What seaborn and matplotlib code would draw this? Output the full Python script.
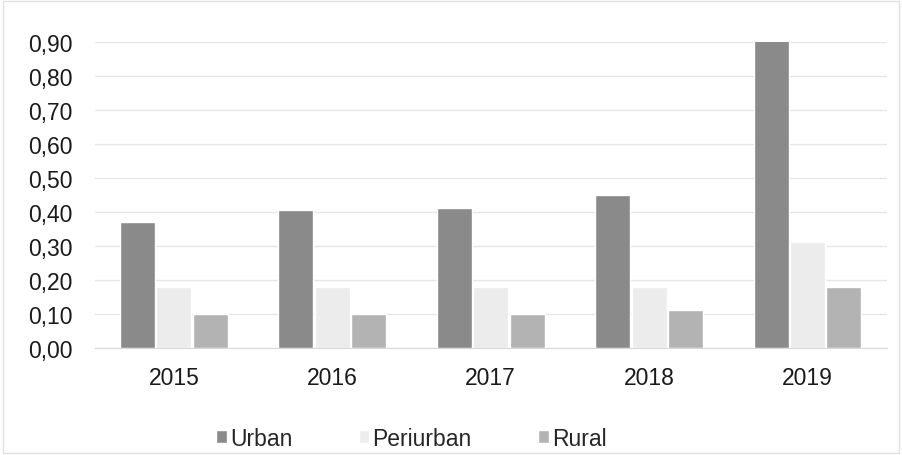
import pandas as pd
import matplotlib.pyplot as plt
import seaborn as sns
from matplotlib.ticker import FuncFormatter
from matplotlib.patches import Rectangle

anos = ["2015", "2016", "2017", "2018", "2019"]
urban = [0.37, 0.405, 0.41, 0.45, 0.905]
periurban = [0.18, 0.18, 0.18, 0.18, 0.31]
rural = [0.10, 0.10, 0.10, 0.11, 0.18]
grupos = ["Urban", "Periurban", "Rural"]
cores = ["#8a8a8a", "#ececec", "#b3b3b3"]

df = pd.DataFrame({"ano": anos * 3,
                   "valor": urban + periurban + rural,
                   "grupo": [g for g in grupos for _ in anos]})

sns.set_style("white")
plt.rcParams["font.family"] = ["Liberation Sans", "DejaVu Sans"]

fig = plt.figure(figsize=(9.02, 4.56), dpi=100)
ax = fig.add_axes([0.105, 0.235, 0.878, 0.671])

sns.barplot(data=df, x="ano", y="valor", hue="grupo", palette=cores,
            width=0.69, gap=0.04, ax=ax, saturation=1, legend=True)

ax.set_ylim(0, 0.90)
ax.set_yticks([i / 10 for i in range(10)])
ax.yaxis.set_major_formatter(FuncFormatter(lambda v, p: f"{v:.2f}".replace(".", ",")))
ax.grid(axis="y", color="#e6e6e6", linewidth=1)
ax.set_axisbelow(True)
for s in ["top", "right", "left"]:
    ax.spines[s].set_visible(False)
ax.spines["bottom"].set_color("#d9d9d9")
ax.tick_params(axis="both", labelsize=16.5, length=0, colors="#1a1a1a")
ax.tick_params(axis="y", pad=16)
ax.tick_params(axis="x", pad=13)
ax.set_xlabel("")
ax.set_ylabel("")

ax.legend(loc="upper center", bbox_to_anchor=(0.40, -0.19), ncol=3, frameon=False,
          fontsize=16.5, handlelength=0.45, handleheight=0.45, handletextpad=0.15,
          columnspacing=2.9)

fig.patches.append(Rectangle((0.003, 0.005), 0.994, 0.99, transform=fig.transFigure,
                             fill=False, edgecolor="#e0e0e0", linewidth=1))

fig.savefig("out.png", dpi=100)
